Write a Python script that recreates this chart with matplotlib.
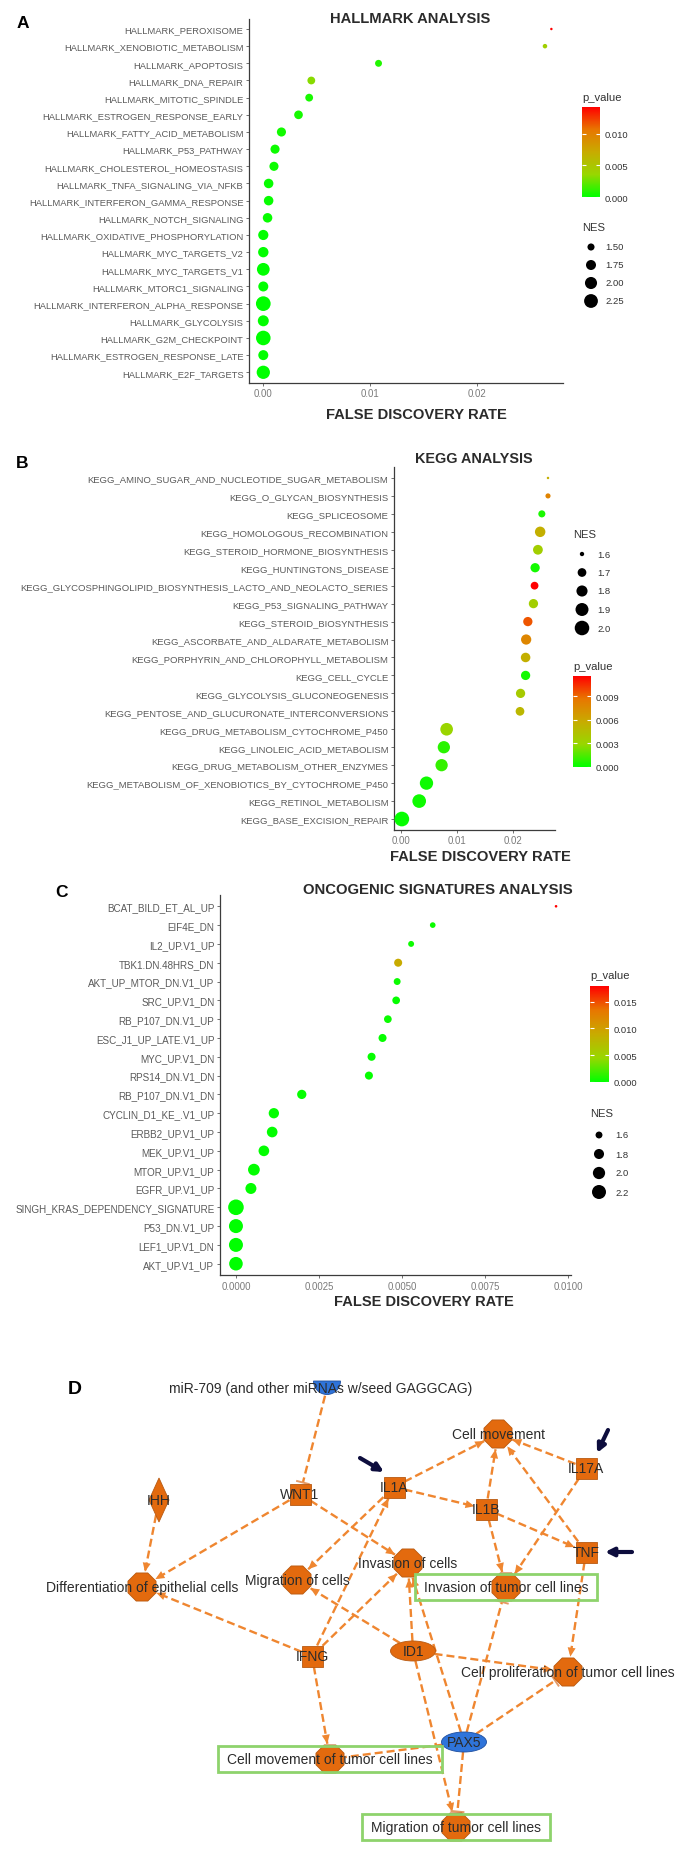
import numpy as np
import matplotlib
matplotlib.use("Agg")
import matplotlib.pyplot as plt
from matplotlib.colors import LinearSegmentedColormap, Normalize
from matplotlib.cm import ScalarMappable
from matplotlib.patches import RegularPolygon, Rectangle, Polygon, Ellipse, Wedge

plt.rcParams["font.family"] = ["Liberation Sans", "DejaVu Sans"]

W, H = 682, 1856

# ---------------- panel A : hallmark ----------------
hallmark_terms = ["HALLMARK_PEROXISOME", "HALLMARK_XENOBIOTIC_METABOLISM", "HALLMARK_APOPTOSIS",
                  "HALLMARK_DNA_REPAIR", "HALLMARK_MITOTIC_SPINDLE", "HALLMARK_ESTROGEN_RESPONSE_EARLY",
                  "HALLMARK_FATTY_ACID_METABOLISM", "HALLMARK_P53_PATHWAY", "HALLMARK_CHOLESTEROL_HOMEOSTASIS",
                  "HALLMARK_TNFA_SIGNALING_VIA_NFKB", "HALLMARK_INTERFERON_GAMMA_RESPONSE",
                  "HALLMARK_NOTCH_SIGNALING", "HALLMARK_OXIDATIVE_PHOSPHORYLATION", "HALLMARK_MYC_TARGETS_V2",
                  "HALLMARK_MYC_TARGETS_V1", "HALLMARK_MTORC1_SIGNALING", "HALLMARK_INTERFERON_ALPHA_RESPONSE",
                  "HALLMARK_GLYCOLYSIS", "HALLMARK_G2M_CHECKPOINT", "HALLMARK_ESTROGEN_RESPONSE_LATE",
                  "HALLMARK_E2F_TARGETS"]
hallmark_fdr = [0.0270, 0.0264, 0.0108, 0.0045, 0.0043, 0.0033, 0.0017, 0.0011, 0.0010, 0.0005, 0.0005,
                0.0004, 0.0000, 0.0000, 0.0000, 0.0000, 0.0000, 0.0000, 0.0000, 0.0000, 0.0000]
hallmark_pval = [0.0142, 0.0042, 0.0008, 0.0032, 0.0006, 0.0005, 0.0004, 0.0003, 0.0003, 0.0002, 0.0002,
                 0.0002, 0.0001, 0.0001, 0.0000, 0.0001, 0.0000, 0.0001, 0.0000, 0.0001, 0.0000]
hallmark_nes = [1.35, 1.38, 1.49, 1.55, 1.55, 1.62, 1.66, 1.66, 1.66, 1.70, 1.70,
                1.70, 1.77, 1.79, 2.09, 1.75, 2.40, 1.86, 2.38, 1.75, 2.17]

# ---------------- panel B : KEGG ----------------
kegg_terms = ["KEGG_AMINO_SUGAR_AND_NUCLEOTIDE_SUGAR_METABOLISM", "KEGG_O_GLYCAN_BIOSYNTHESIS",
              "KEGG_SPLICEOSOME", "KEGG_HOMOLOGOUS_RECOMBINATION", "KEGG_STEROID_HORMONE_BIOSYNTHESIS",
              "KEGG_HUNTINGTONS_DISEASE", "KEGG_GLYCOSPHINGOLIPID_BIOSYNTHESIS_LACTO_AND_NEOLACTO_SERIES",
              "KEGG_P53_SIGNALING_PATHWAY", "KEGG_STEROID_BIOSYNTHESIS", "KEGG_ASCORBATE_AND_ALDARATE_METABOLISM",
              "KEGG_PORPHYRIN_AND_CHLOROPHYLL_METABOLISM", "KEGG_CELL_CYCLE", "KEGG_GLYCOLYSIS_GLUCONEOGENESIS",
              "KEGG_PENTOSE_AND_GLUCURONATE_INTERCONVERSIONS", "KEGG_DRUG_METABOLISM_CYTOCHROME_P450",
              "KEGG_LINOLEIC_ACID_METABOLISM", "KEGG_DRUG_METABOLISM_OTHER_ENZYMES",
              "KEGG_METABOLISM_OF_XENOBIOTICS_BY_CYTOCHROME_P450", "KEGG_RETINOL_METABOLISM",
              "KEGG_BASE_EXCISION_REPAIR"]
kegg_fdr = [0.0263, 0.0263, 0.0252, 0.0249, 0.0245, 0.0240, 0.0239, 0.0237, 0.0227, 0.0224,
            0.0223, 0.0223, 0.0214, 0.0213, 0.0082, 0.0077, 0.0073, 0.0046, 0.0033, 0.0002]
kegg_pval = [0.0055, 0.0080, 0.0005, 0.0055, 0.0035, 0.0004, 0.0116, 0.0035, 0.0095, 0.0078,
             0.0055, 0.0004, 0.0038, 0.0050, 0.0030, 0.0008, 0.0010, 0.0003, 0.0003, 0.0001]
kegg_nes = [1.59, 1.61, 1.65, 1.77, 1.74, 1.72, 1.67, 1.72, 1.72, 1.76,
            1.73, 1.72, 1.72, 1.70, 1.88, 1.86, 1.86, 1.92, 1.94, 2.01]

# ---------------- panel C : oncogenic signatures ----------------
onco_terms = ["BCAT_BILD_ET_AL_UP", "EIF4E_DN", "IL2_UP.V1_UP", "TBK1.DN.48HRS_DN", "AKT_UP_MTOR_DN.V1_UP",
              "SRC_UP.V1_DN", "RB_P107_DN.V1_UP", "ESC_J1_UP_LATE.V1_UP", "MYC_UP.V1_DN", "RPS14_DN.V1_DN",
              "RB_P107_DN.V1_DN", "CYCLIN_D1_KE_.V1_UP", "ERBB2_UP.V1_UP", "MEK_UP.V1_UP", "MTOR_UP.V1_UP",
              "EGFR_UP.V1_UP", "SINGH_KRAS_DEPENDENCY_SIGNATURE", "P53_DN.V1_UP", "LEF1_UP.V1_DN", "AKT_UP.V1_UP"]
onco_fdr = [0.00963, 0.00592, 0.00527, 0.00488, 0.00485, 0.00482, 0.00457, 0.00441, 0.00408, 0.00400,
            0.00198, 0.00114, 0.00109, 0.00084, 0.00054, 0.00045, 0.0, 0.0, 0.0, 0.0]
onco_pval = [0.0179, 0.0003, 0.0004, 0.0090, 0.0003, 0.0002, 0.0003, 0.0002, 0.0002, 0.0002,
             0.0002, 0.0001, 0.0001, 0.0001, 0.0001, 0.0001, 0.0000, 0.0000, 0.0000, 0.0000]
onco_nes = [1.50, 1.55, 1.56, 1.66, 1.60, 1.64, 1.64, 1.66, 1.66, 1.66,
            1.74, 1.82, 1.85, 1.85, 1.95, 1.88, 2.41, 2.20, 2.20, 2.15]

# ---------------- panel D : network ----------------
net_nodes = ["miR-709 (and other miRNAs w/seed GAGGCAG)", "WNT1", "IHH", "IL1A", "Cell movement", "IL17A",
             "IL1B", "TNF", "Invasion of cells", "Migration of cells", "Differentiation of epithelial cells",
             "Invasion of tumor cell lines", "ID1", "IFNG", "Cell proliferation of tumor cell lines", "PAX5",
             "Cell movement of tumor cell lines", "Migration of tumor cell lines"]
net_kind = ["mirna", "square", "diamond", "square", "function", "square",
            "square", "square", "function", "function", "function",
            "function", "ellipse", "square", "function", "ellipse",
            "function", "function"]
net_down = ["miR-709 (and other miRNAs w/seed GAGGCAG)", "PAX5"]
net_boxed = ["Invasion of tumor cell lines", "Cell movement of tumor cell lines", "Migration of tumor cell lines"]
net_edges = [
    ("miR-709 (and other miRNAs w/seed GAGGCAG)", "WNT1", "inhibit"),
    ("IHH", "Differentiation of epithelial cells", "arrow"),
    ("WNT1", "Differentiation of epithelial cells", "arrow"),
    ("WNT1", "Invasion of cells", "arrow"),
    ("IL1A", "Migration of cells", "arrow"),
    ("IL1A", "Cell movement", "arrow"),
    ("IL1A", "IL1B", "arrow"),
    ("IL1B", "Cell movement", "arrow"),
    ("IL1B", "TNF", "arrow"),
    ("IL1B", "Invasion of tumor cell lines", "arrow"),
    ("IL17A", "Cell movement", "arrow"),
    ("IL17A", "Invasion of tumor cell lines", "arrow"),
    ("TNF", "Cell movement", "arrow"),
    ("TNF", "Cell proliferation of tumor cell lines", "arrow"),
    ("IFNG", "IL1A", "arrow"),
    ("IFNG", "Invasion of cells", "arrow"),
    ("IFNG", "Differentiation of epithelial cells", "arrow"),
    ("IFNG", "Cell movement of tumor cell lines", "arrow"),
    ("ID1", "Migration of cells", "arrow"),
    ("ID1", "Invasion of cells", "arrow"),
    ("ID1", "Cell proliferation of tumor cell lines", "arrow"),
    ("ID1", "Migration of tumor cell lines", "arrow"),
    ("PAX5", "Invasion of cells", "arrow"),
    ("PAX5", "Invasion of tumor cell lines", "inhibit"),
    ("PAX5", "Cell proliferation of tumor cell lines", "inhibit"),
    ("PAX5", "Cell movement of tumor cell lines", "line"),
    ("PAX5", "Migration of tumor cell lines", "inhibit"),
]
net_marked = ["IL1A", "IL17A", "TNF"]

# network layout (pixels of the figure)
node_xy = {
    "miR-709 (and other miRNAs w/seed GAGGCAG)": (327, 1389), "WNT1": (300, 1495), "IHH": (159, 1501),
    "IL1A": (394, 1488), "Cell movement": (498, 1435), "IL17A": (586, 1469), "IL1B": (486, 1510),
    "TNF": (586, 1553), "Invasion of cells": (408, 1564), "Migration of cells": (297, 1581),
    "Differentiation of epithelial cells": (142, 1588), "Invasion of tumor cell lines": (506, 1588),
    "ID1": (413, 1652), "IFNG": (312, 1657), "Cell proliferation of tumor cell lines": (568, 1673),
    "PAX5": (464, 1743), "Cell movement of tumor cell lines": (330, 1760),
    "Migration of tumor cell lines": (456, 1828),
}
mark_offsets = {"IL1A": ((-34, -29), (-10, -15)), "IL17A": ((22, -38), (11, -15)), "TNF": ((46, 0), (19, 0))}

# ---------------- style ----------------
pcmap = LinearSegmentedColormap.from_list(
    "p_value", [(0, "#00FF00"), (0.25, "#98D700"), (0.5, "#C8AB00"), (0.75, "#E87600"), (1, "#FF0000")])
NODE_ORANGE = "#E36A0E"
NODE_BLUE = "#2F74DA"
EDGE_ORANGE = "#EF8630"
TEXT_DARK = "#2b2b2b"

fig = plt.figure(figsize=(W / 100, H / 100), dpi=100)


def px_rect(left, top, right, bottom):
    return [left / W, 1 - bottom / H, (right - left) / W, (bottom - top) / H]


def fig_text(x, y, s, **kw):
    fig.text(x / W, 1 - y / H, s, **kw)


def dot_area(values, nes_all, unit_px):
    lo, hi = min(nes_all), max(nes_all)
    t = np.clip((np.asarray(values, dtype=float) - lo) / (hi - lo), 0, 1)
    diam = unit_px * (1 + 5 * np.sqrt(t))
    return (diam * 0.72) ** 2


def dot_panel(box, terms, fdr, pval, nes, xlim, xticks, xfmt, unit_px, label_size):
    ax = fig.add_axes(px_rect(*box))
    ypos = np.arange(len(terms))
    norm = Normalize(0, max(pval))
    ax.scatter(fdr, ypos, s=dot_area(nes, nes, unit_px), c=pval, cmap=pcmap, norm=norm,
               linewidths=0, zorder=3, clip_on=False)
    ax.set_xlim(*xlim)
    ax.set_ylim(len(terms) - 0.4, -0.6)
    ax.set_yticks(ypos)
    ax.set_yticklabels(terms)
    ax.set_xticks(xticks)
    ax.set_xticklabels([xfmt.format(v) for v in xticks])
    for side in ("top", "right"):
        ax.spines[side].set_visible(False)
    for side in ("left", "bottom"):
        ax.spines[side].set_color("#3c3c3c")
        ax.spines[side].set_linewidth(0.9)
    ax.tick_params(axis="y", labelsize=label_size, labelcolor="#5a5a5a", color="#5a5a5a",
                   length=2.5, width=0.6, pad=1.5)
    ax.tick_params(axis="x", labelsize=6.9, labelcolor="#7a7a7a", color="#5a5a5a",
                   length=2.5, width=0.6, pad=1.5)
    ax.set_facecolor("none")
    return norm


def pvalue_bar(box, norm, ticks, title_xy):
    cax = fig.add_axes(px_rect(*box))
    cb = fig.colorbar(ScalarMappable(norm=norm, cmap=pcmap), cax=cax)
    cb.outline.set_visible(False)
    cb.set_ticks(ticks)
    cb.set_ticklabels(["{:.3f}".format(t) for t in ticks])
    cax.yaxis.set_ticks_position("both")
    cax.tick_params(direction="in", color="white", length=3, width=0.8, labelsize=6.8,
                    labelcolor="#333333", pad=3, labelleft=False, labelright=True)
    fig_text(*title_xy, "p_value", fontsize=8.1, color="#333333", ha="left", va="center")


def nes_legend(key_x, label_x, row0, pitch, values, nes_all, unit_px, fmt, title_xy):
    n = len(values)
    left, right = key_x - 12, label_x + 40
    lax = fig.add_axes(px_rect(left, row0 - pitch / 2, right, row0 + (n - 0.5) * pitch))
    rows = np.arange(n)
    lax.scatter(np.full(n, key_x), rows, s=dot_area(values, nes_all, unit_px), c="black", linewidths=0)
    for r, v in zip(rows, values):
        lax.text(label_x, r, fmt.format(v), fontsize=6.8, color="#333333", va="center", ha="left")
    lax.set_xlim(left, right)
    lax.set_ylim(n - 0.5, -0.5)
    lax.axis("off")
    fig_text(*title_xy, "NES", fontsize=8.1, color="#333333", ha="left", va="center")


# ---- A
norm_a = dot_panel((249, 19.7, 563, 383.6), hallmark_terms, hallmark_fdr, hallmark_pval, hallmark_nes,
                   (-0.00134, 0.02809), [0.0, 0.01, 0.02], "{:.2f}", 2.45, 6.75)
pvalue_bar((582, 108, 600, 198), norm_a, [0.0, 0.005, 0.010], (582, 98))
nes_legend(591, 605, 248, 18, [1.50, 1.75, 2.00, 2.25], hallmark_nes, 2.45, "{:.2f}", (582, 228))
fig_text(410, 19, "HALLMARK ANALYSIS", fontsize=10.6, fontweight="bold", color=TEXT_DARK, ha="center", va="center")
fig_text(416, 415, "FALSE DISCOVERY RATE", fontsize=10.6, fontweight="bold", color=TEXT_DARK, ha="center", va="center")
fig_text(23, 24, "A", fontsize=12.5, fontweight="bold", color="black", ha="center", va="center")

# ---- B
norm_b = dot_panel((394, 468.2, 555, 830.8), kegg_terms, kegg_fdr, kegg_pval, kegg_nes,
                   (-0.0012, 0.02755), [0.0, 0.01, 0.02], "{:.2f}", 2.45, 6.8)
nes_legend(582, 597, 555, 18.5, [1.6, 1.7, 1.8, 1.9, 2.0], kegg_nes, 2.45, "{:.1f}", (573, 535))
pvalue_bar((573, 677, 591, 768), norm_b, [0.0, 0.003, 0.006, 0.009], (573, 667))
fig_text(474, 459, "KEGG ANALYSIS", fontsize=10.4, fontweight="bold", color=TEXT_DARK, ha="center", va="center")
fig_text(480, 857, "FALSE DISCOVERY RATE", fontsize=10.6, fontweight="bold", color=TEXT_DARK, ha="center", va="center")
fig_text(22, 463, "B", fontsize=12.5, fontweight="bold", color="black", ha="center", va="center")

# ---- C
norm_c = dot_panel((220, 896, 571, 1276), onco_terms, onco_fdr, onco_pval, onco_nes,
                   (-0.00048, 0.01008), [0.0, 0.0025, 0.005, 0.0075, 0.01], "{:.4f}", 2.6, 7.1)
pvalue_bar((590, 987, 609, 1083), norm_c, [0.0, 0.005, 0.010, 0.015], (590, 976))
nes_legend(599, 615, 1136, 19, [1.6, 1.8, 2.0, 2.2], onco_nes, 2.6, "{:.1f}", (590, 1114))
fig_text(438, 890, "ONCOGENIC SIGNATURES ANALYSIS", fontsize=10.7, fontweight="bold", color=TEXT_DARK,
         ha="center", va="center")
fig_text(424, 1302, "FALSE DISCOVERY RATE", fontsize=10.5, fontweight="bold", color=TEXT_DARK, ha="center", va="center")
fig_text(61, 893, "C", fontsize=12.5, fontweight="bold", color="black", ha="center", va="center")

# ---- D network
top_d = 1310
ax_d = fig.add_axes(px_rect(0, top_d, W, H))
ax_d.set_xlim(0, W)
ax_d.set_ylim(H, top_d)
ax_d.axis("off")
kind_of = dict(zip(net_nodes, net_kind))


def rim(kind, ux, uy):
    if kind == "function":
        return 14.5
    if kind == "square":
        return 10.5 / max(abs(ux), abs(uy))
    if kind == "ellipse":
        return 1 / np.hypot(ux / 22.5, uy / 10)
    if kind == "diamond":
        return 1 / (abs(ux) / 10 + abs(uy) / 21.5)
    return 8


for src, dst, how in net_edges:
    x0, y0 = node_xy[src]
    x1, y1 = node_xy[dst]
    dist = np.hypot(x1 - x0, y1 - y0)
    ux, uy = (x1 - x0) / dist, (y1 - y0) / dist
    sx, sy = x0 + ux * rim(kind_of[src], ux, uy), y0 + uy * rim(kind_of[src], ux, uy)
    ex, ey = x1 - ux * (rim(kind_of[dst], ux, uy) + 1), y1 - uy * (rim(kind_of[dst], ux, uy) + 1)
    ax_d.plot([sx, ex], [sy, ey], color=EDGE_ORANGE, lw=1.7, dashes=(3.4, 1.7), zorder=1,
              dash_capstyle="butt")
    if how == "arrow":
        head = [(ex, ey), (ex - ux * 9 - uy * 4, ey - uy * 9 + ux * 4), (ex - ux * 9 + uy * 4, ey - uy * 9 - ux * 4)]
        ax_d.add_patch(Polygon(head, closed=True, fc=EDGE_ORANGE, ec="none", zorder=1.5))
    elif how == "inhibit":
        ax_d.plot([ex - uy * 6, ex + uy * 6], [ey + ux * 6, ey - ux * 6], color="#E59A66", lw=1.4, zorder=1.5)

for name, kind in zip(net_nodes, net_kind):
    x, y = node_xy[name]
    fc = NODE_BLUE if name in net_down else NODE_ORANGE
    ec = "#1E4E9E" if name in net_down else "#B85A12"
    if kind == "function":
        shape = RegularPolygon((x, y), numVertices=8, radius=15.2, orientation=np.pi / 8)
    elif kind == "square":
        shape = Rectangle((x - 10.5, y - 10.5), 21, 21)
    elif kind == "diamond":
        shape = Polygon([(x, y - 22), (x + 10, y), (x, y + 22), (x - 10, y)], closed=True)
    elif kind == "ellipse":
        shape = Ellipse((x, y), 45, 20)
    else:
        shape = Wedge((x, y - 7), 13.5, 0, 180)
    shape.set_facecolor(fc)
    shape.set_edgecolor(ec)
    shape.set_linewidth(0.6)
    shape.set_zorder(2)
    ax_d.add_patch(shape)

for name in net_marked:
    x, y = node_xy[name]
    (ox0, oy0), (ox1, oy1) = mark_offsets[name]
    ax_d.annotate("", xy=(x + ox1, y + oy1), xytext=(x + ox0, y + oy0),
                  arrowprops=dict(arrowstyle="-|>", color="#0D0D3D", lw=3, mutation_scale=12,
                                  shrinkA=0, shrinkB=0), zorder=3)

labels = {}
for name in net_nodes:
    x, y = node_xy[name]
    labels[name] = ax_d.text(x - (6 if name.startswith("miR") else 0), y, name, fontsize=10, color=TEXT_DARK,
                             ha="center", va="center", zorder=4)

fig.canvas.draw()
inv = ax_d.transData.inverted()
for name in net_boxed:
    bb = labels[name].get_window_extent()
    (bx0, by0), (bx1, by1) = inv.transform([[bb.x0, bb.y0], [bb.x1, bb.y1]])
    ylo, yhi = min(by0, by1), max(by0, by1)
    ax_d.add_patch(Rectangle((bx0 - 9, ylo - 6), (bx1 - bx0) + 18, (yhi - ylo) + 12,
                             fc="none", ec="#8ED36C", lw=2, zorder=4))

fig_text(75, 1390, "D", fontsize=14, fontweight="bold", color="black", ha="center", va="center")

fig.savefig("out.png", dpi=100)
